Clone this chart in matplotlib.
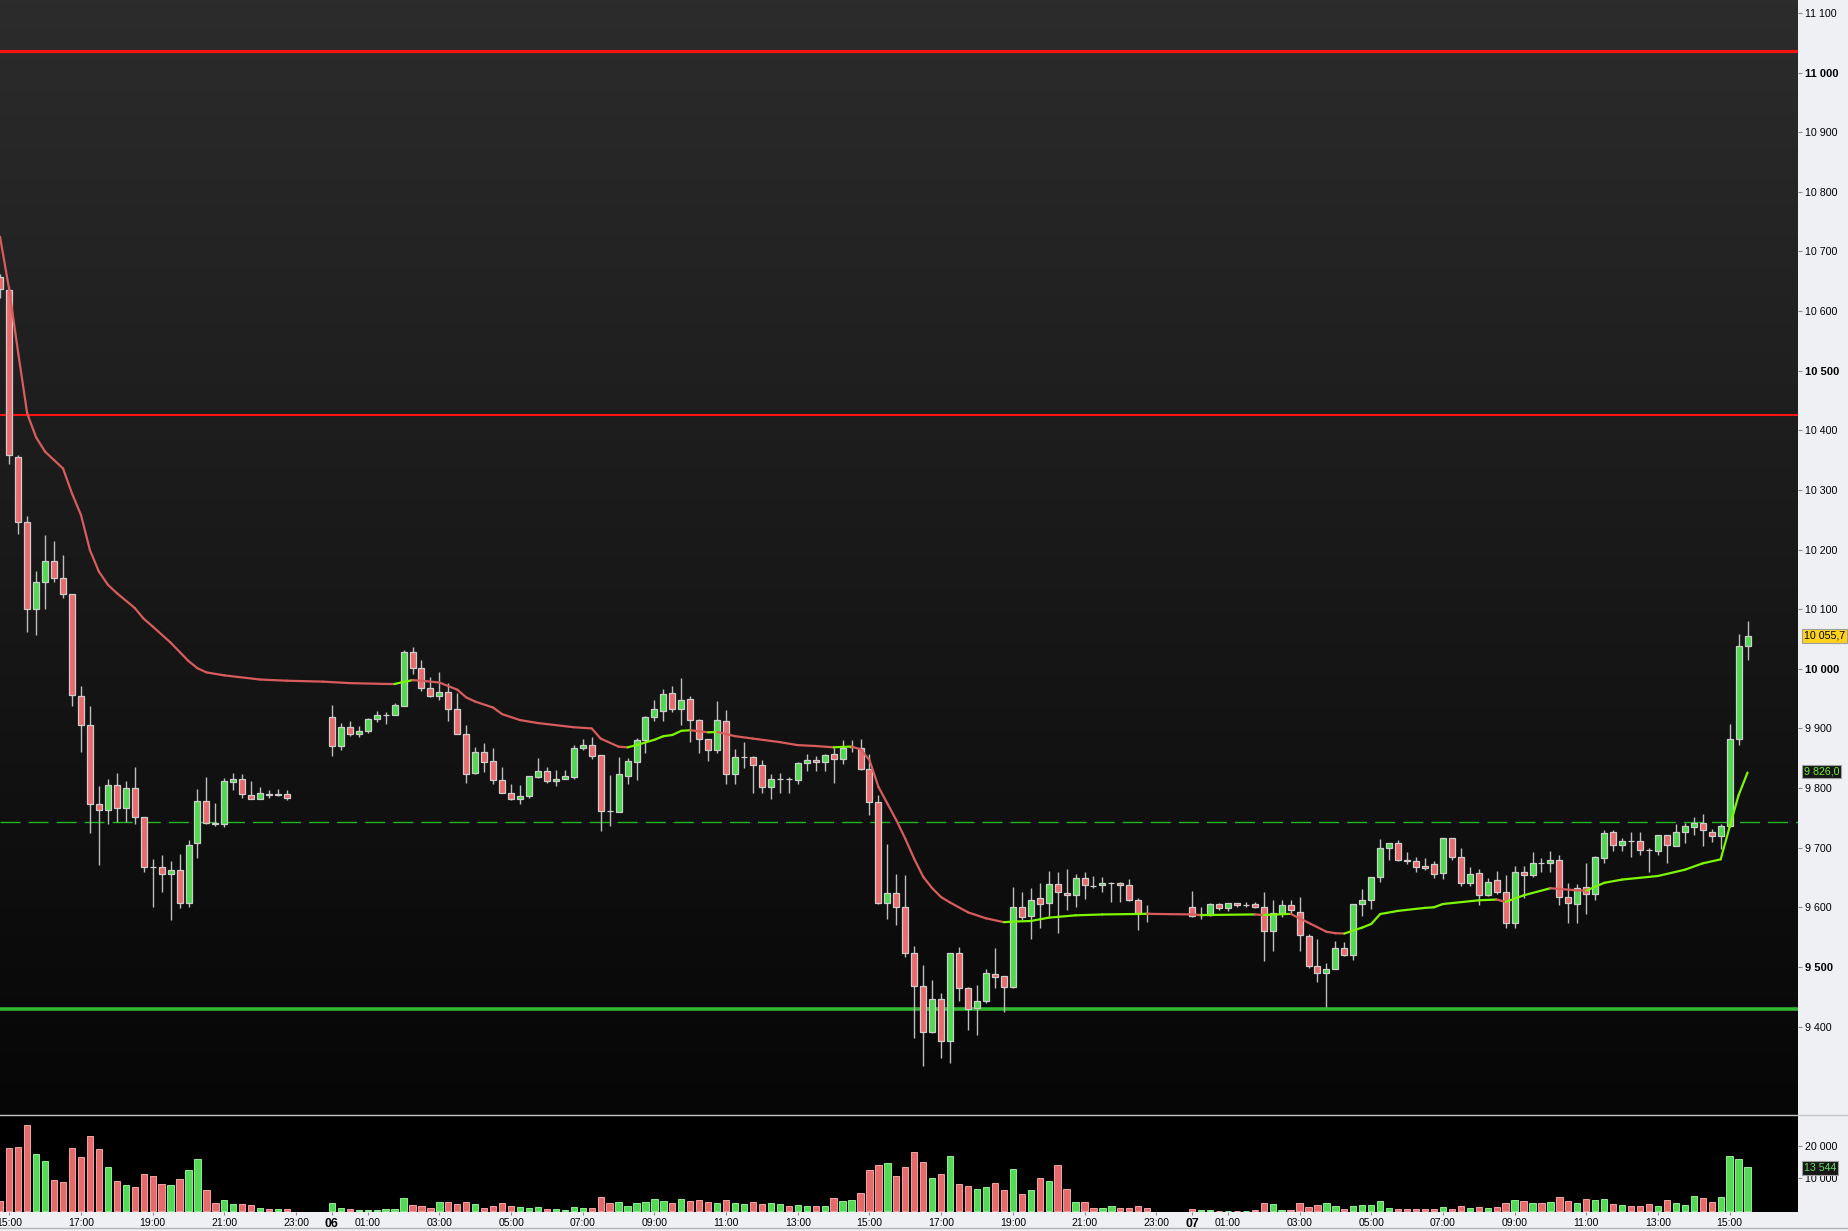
import numpy as np
import matplotlib
matplotlib.use('Agg')
import matplotlib.pyplot as plt
from matplotlib.collections import LineCollection
from matplotlib.colors import LinearSegmentedColormap
import matplotlib.transforms as mtransforms

plt.rcParams['font.family'] = ['Liberation Sans', 'DejaVu Sans']
plt.rcParams['lines.scale_dashes'] = False

# ---------------- data (15-minute bars, slot 0 = day 05 15:00) ----------------
slots = list(range(-1, 32)) + list(range(36, 128)) + list(range(132, 195))

opens = [10658, 10635, 10356, 10247, 10100, 10145, 10181, 10152, 10125, 9955,
         9905, 9774, 9764, 9805, 9767, 9800, 9751, 9667.5, 9667, 9655,
         9662, 9608, 9707, 9779, 9741, 9739, 9810, 9816, 9788, 9781,
         9789.5, 9789, 9790,
         9919, 9870, 9902, 9890, 9895, 9915, 9922.4, 9923, 9938, 10029,
         10002, 9968, 9955, 9961, 9932, 9891, 9826, 9860, 9845, 9814,
         9792, 9782, 9786, 9818, 9828, 9811, 9816, 9819, 9868, 9873,
         9855, 9761.5, 9760, 9821, 9844, 9880, 9920, 9930, 9959, 9932,
         9949, 9914, 9882, 9863, 9912, 9823, 9852.3, 9852, 9838, 9801,
         9815.3, 9815.5, 9814, 9842, 9847, 9843, 9857, 9848, 9868.5, 9868,
         9832, 9776, 9608, 9624, 9600, 9524, 9468, 9391, 9446, 9375,
         9523, 9465, 9431, 9442, 9488, 9484, 9467, 9600, 9585, 9615,
         9607, 9639, 9624, 9620, 9649, 9636, 9637, 9640.3, 9641, 9637,
         9613, 9590,
         9600, 9587, 9587, 9605, 9598, 9607, 9604, 9605, 9600, 9561,
         9590, 9603, 9592, 9551, 9501, 9489, 9496, 9531, 9520, 9605,
         9613, 9650, 9699, 9707, 9680, 9677, 9670, 9672, 9657, 9716,
         9684, 9640, 9657, 9621, 9645, 9625, 9573, 9659, 9654, 9674,
         9674, 9679, 9617, 9605, 9634, 9623, 9682, 9726, 9704, 9711,
         9711, 9696, 9694, 9721, 9702, 9726, 9734, 9742, 9727, 9719,
         9736, 9882, 10038]

highs = [10662, 10640, 10358, 10256, 10164, 10224, 10214, 10191, 10126, 9971,
         9938, 9803, 9815, 9825, 9811, 9835, 9752, 9681, 9687, 9677,
         9689, 9713, 9798, 9819, 9775, 9817, 9825, 9823, 9812, 9802,
         9797, 9798, 9797,
         9939, 9909, 9912, 9904, 9917, 9929, 9928, 9942, 10032, 10036,
         10014, 9987, 9994, 9976, 9960, 9905, 9869, 9875, 9867, 9835,
         9807, 9805, 9821, 9850, 9835, 9830, 9830, 9872, 9882, 9886,
         9856, 9822, 9852, 9850, 9884, 9921, 9948, 9966, 9972, 9984,
         9954, 9915, 9883, 9946, 9931, 9866, 9877, 9853, 9847, 9824,
         9825, 9819, 9843, 9857, 9854, 9857, 9867, 9880, 9881, 9882,
         9857, 9788, 9706, 9656, 9654, 9535, 9503, 9478, 9456, 9524,
         9533, 9466, 9469, 9496, 9531, 9485, 9634, 9626, 9632, 9641,
         9661, 9659, 9664, 9656, 9659, 9652, 9651, 9643, 9642, 9647,
         9615, 9603,
         9627, 9601, 9608, 9608, 9608, 9607, 9609, 9609, 9625, 9612,
         9612, 9612, 9617, 9555, 9546, 9506, 9543, 9541, 9606, 9631,
         9651, 9714, 9708, 9713, 9692, 9684, 9682, 9677, 9716, 9716,
         9699, 9667, 9665, 9649, 9661, 9654, 9669, 9669, 9692, 9682,
         9694, 9687, 9640, 9639, 9674, 9686, 9729, 9729, 9717, 9726,
         9726, 9699, 9722, 9722, 9740, 9741, 9751, 9756, 9731, 9739,
         9908, 10058, 10081]

lows = [10622, 10343, 10226, 10062, 10057, 10101, 10146, 10118, 9938, 9861,
        9725, 9671, 9740, 9743, 9743, 9740, 9660, 9601, 9626, 9578,
        9598, 9601, 9682, 9739, 9736, 9734, 9796, 9784, 9781, 9781,
        9784, 9787, 9780,
        9854, 9863, 9887, 9885, 9893, 9911, 9908, 9922, 9937, 9992,
        9963, 9953, 9948, 9913, 9890, 9809, 9824, 9827, 9807, 9791,
        9780, 9774, 9784, 9817, 9809, 9804, 9816, 9816, 9864, 9849,
        9728, 9737, 9760, 9806, 9814, 9859, 9913, 9913, 9928, 9906,
        9878, 9858, 9846, 9859, 9806, 9807, 9834, 9792, 9792, 9782,
        9791, 9792, 9806, 9828, 9828, 9829, 9809, 9840, 9860, 9830,
        9755, 9606, 9580, 9570, 9517, 9381, 9333, 9389, 9348, 9338,
        9442, 9395, 9385, 9440, 9464, 9425, 9464, 9579, 9547, 9566,
        9585, 9557, 9596, 9601, 9614, 9632, 9626, 9609, 9609, 9610,
        9562, 9576,
        9583, 9581, 9585, 9595, 9593, 9600, 9601, 9598, 9510, 9526,
        9583, 9588, 9526, 9498, 9474, 9433, 9496, 9518, 9511, 9586,
        9597, 9643, 9680, 9677, 9672, 9660, 9662, 9649, 9647, 9680,
        9635, 9635, 9603, 9619, 9622, 9565, 9566, 9615, 9650, 9659,
        9659, 9603, 9573, 9573, 9588, 9613, 9675, 9694, 9694, 9684,
        9687, 9659, 9687, 9674, 9702, 9707, 9721, 9703, 9709, 9697,
        9735, 9872, 10014]

closes = [10637, 10358, 10247, 10100, 10145, 10181, 10152, 10125, 9956, 9905,
          9774, 9764, 9805, 9767, 9800, 9751, 9667, 9667, 9655, 9662,
          9607, 9704, 9779, 9742, 9740, 9811, 9816, 9790, 9781, 9791,
          9789, 9789.3, 9783,
          9870, 9902, 9890, 9895, 9915, 9922, 9922.4, 9939, 10029, 10002,
          9968, 9955, 9961, 9932, 9891, 9824, 9860, 9844, 9814, 9792,
          9782, 9786, 9820, 9828, 9811, 9816, 9820, 9868, 9873, 9853,
          9762, 9761.5, 9823, 9845, 9880, 9920, 9932, 9957, 9932, 9947,
          9914, 9882, 9863, 9914, 9823, 9852, 9852.3, 9838, 9801, 9815,
          9815.3, 9815, 9842, 9847, 9843, 9855, 9848, 9868, 9868.5, 9832,
          9776, 9608, 9624, 9600, 9523, 9468, 9391, 9447, 9375, 9523,
          9465, 9430, 9442, 9489, 9483, 9467, 9600, 9583, 9613, 9605,
          9639, 9625, 9620, 9649, 9637, 9636, 9640, 9640.3, 9637, 9612,
          9590, 9590,
          9585, 9587, 9605, 9598, 9607, 9603, 9604, 9600, 9561, 9590,
          9603, 9595, 9553, 9501, 9489, 9496, 9531, 9520, 9605, 9613,
          9650, 9699, 9707, 9680, 9677, 9667, 9666, 9655, 9716, 9684,
          9640, 9655, 9621, 9643, 9625, 9573, 9659, 9654, 9675, 9674,
          9679, 9618, 9607, 9632, 9623, 9684, 9724, 9704, 9711, 9711,
          9696, 9696, 9721, 9704, 9726, 9736, 9742, 9729, 9719, 9736,
          9883, 10039, 10055.7]

volumes = [3058, 19170, 19480, 26300, 17430, 15290, 9480, 8870, 19170, 16510,
           22930, 18860, 13455, 9170, 7950, 7340, 11310, 10700, 8260, 7950,
           9790, 12540, 15900, 6420, 2450, 3360, 2140, 2140, 1835, 917,
           612, 612, 612,
           2450, 917, 612, 306, 306, 306, 612, 612, 3975, 1835,
           1530, 917, 2750, 2750, 2140, 2750, 2140, 917, 1530, 2450,
           1530, 1223, 917, 1223, 612, 612, 306, 1223, 917, 917,
           4180, 2350, 2650, 1430, 2350, 2650, 3570, 2970, 2350, 3570,
           2970, 3270, 2650, 2350, 3270, 2350, 2050, 2650, 2050, 2350,
           2050, 1430, 1740, 1430, 1430, 1430, 3880, 2970, 3270, 5410,
           12450, 13970, 14590, 10610, 13360, 17950, 14890, 10000, 11220, 16730,
           8165, 7550, 6640, 7250, 8470, 6330, 12750, 5110, 6330, 10000,
           9080, 13970, 6640, 2650, 2650, 830, 830, 1430, 830, 830,
           1430, 830,
           520, 200, 200, 80, 80, 80, 80, 306, 2350, 2050,
           200, 200, 2350, 1130, 1740, 2350, 1430, 520, 1430, 1740,
           1740, 2970, 830, 520, 520, 520, 520, 520, 1130, 520,
           1430, 830, 1130, 830, 1130, 2350, 3270, 2970, 2350, 2350,
           2650, 4190, 2970, 2350, 3570, 3270, 3570, 2050, 1740, 1430,
           1430, 2050, 1430, 3270, 2350, 1740, 4590, 3980, 2650, 4280,
           16730, 15810, 13544]

ma_slots = [-1.04, 0, 1, 2, 3, 4, 5, 6, 7, 8, 9, 10, 11, 12, 14, 15, 16, 18, 20, 21,
            22, 24, 28, 31, 35, 38, 42, 43, 44, 45, 46, 47, 48, 50, 51, 52, 54, 55, 57, 59,
            63, 65, 66, 68, 69, 70, 72, 73, 74, 75, 76, 78, 79, 81, 83, 86, 88, 90, 92, 93,
            94, 95, 96, 97, 98, 99, 100, 101, 102, 103, 104, 105, 107, 109, 111, 112, 114,
            116, 119, 122, 127, 132, 133, 139, 140, 143, 144, 145, 147, 148, 149, 150, 151,
            152, 153, 155, 158, 159, 160, 164, 166, 167, 169, 172, 175, 176, 178, 180, 184,
            187, 189, 191, 192, 193, 194]
ma_values = [10725, 10635, 10529, 10428, 10388, 10364, 10350, 10336, 10294, 10258,
             10199, 10163, 10141, 10127, 10102, 10084, 10071, 10044, 10013, 10001,
             9994, 9989, 9982, 9980, 9978.5, 9976, 9974.6, 9974.5, 9978, 9981,
             9980, 9978.5, 9977, 9965, 9952, 9945, 9935, 9924, 9914, 9909,
             9902, 9900, 9883, 9869.4, 9868.3, 9872, 9881, 9887, 9889, 9896,
             9897, 9893.5, 9894, 9887, 9883, 9877, 9872, 9870.5, 9868.3, 9869,
             9869.5, 9865, 9847, 9802, 9774, 9746, 9715, 9681, 9651, 9632,
             9617, 9608, 9591.5, 9581.5, 9575, 9576, 9577, 9582.6, 9586.5, 9588,
             9589, 9588, 9587, 9588, 9587, 9589, 9581.5, 9574, 9559, 9556.5,
             9556, 9561, 9566, 9572, 9588.7, 9594, 9599, 9600, 9605.5, 9611.7,
             9613, 9609, 9620, 9632, 9628.4, 9628, 9641, 9646.5, 9652.5, 9663,
             9673.7, 9680.4, 9735, 9788, 9826]

resistance_levels = [11036, 10426]
support_level = 9430
reference_level = 9742.5

price_ticks = list(range(9400, 11101, 100))
volume_ticks = [10000, 20000]
time_tick_slots = [0, 8, 16, 24, 32, 36, 40, 48, 56, 64, 72, 80, 88, 96, 104, 112, 120, 128,
                   132, 136, 144, 152, 160, 168, 176, 184, 192]
time_tick_labels = ['15:00', '17:00', '19:00', '21:00', '23:00', '06', '01:00', '03:00', '05:00',
                    '07:00', '09:00', '11:00', '13:00', '15:00', '17:00', '19:00', '21:00', '23:00',
                    '07', '01:00', '03:00', '05:00', '07:00', '09:00', '11:00', '13:00', '15:00']

assert len(slots) == len(opens) == len(highs) == len(lows) == len(closes) == len(volumes)
assert len(ma_slots) == len(ma_values)

# ---------------- figure layout ----------------
W, H, DPI = 1849, 1231, 100
fig = plt.figure(figsize=(W / DPI, H / DPI), dpi=DPI, facecolor='#eef0f3')

PANEL_R = 1798
PRICE_BOTTOM = 1115
VOL_BOTTOM = 1212

ax = fig.add_axes([0, 1 - PRICE_BOTTOM / H, PANEL_R / W, PRICE_BOTTOM / H])
axv = fig.add_axes([0, 1 - VOL_BOTTOM / H, PANEL_R / W, (VOL_BOTTOM - PRICE_BOTTOM) / H])

XMIN, XMAX = -1.038, 199.63
YMIN, YMAX = 9251.6, 11121.8
ax.set_xlim(XMIN, XMAX)
ax.set_ylim(YMIN, YMAX)
axv.set_xlim(XMIN, XMAX)
axv.set_ylim(-306, 29357)

# gradient background of price panel
cmap_bg = LinearSegmentedColormap.from_list('bg', ['#060606', '#2c2c2c'])
ax.imshow(np.linspace(1, 0, 256).reshape(-1, 1), cmap=cmap_bg, aspect='auto',
          extent=[XMIN, XMAX, YMIN, YMAX], origin='upper', zorder=0)
axv.set_facecolor('#000000')

for a in (ax, axv):
    for s in a.spines.values():
        s.set_visible(False)

x = np.array(slots, dtype=float)
o = np.array(opens); h = np.array(highs); l = np.array(lows); c = np.array(closes)
v = np.array(volumes, dtype=float)

RED = '#ea6a6b'
GREEN = '#4fd94f'

# horizontal levels
for i, lvl in enumerate(resistance_levels):
    ax.axhline(lvl, color='#ff1212', lw=2.3 if i == 0 else 1.5, zorder=2)
ax.axhline(support_level, color='#2fb52f', lw=2.6, zorder=2)
ax.axhline(reference_level, color='#22b622', lw=1.0, linestyle=(0, (14.4, 5.8)), zorder=2)

# candles
up = c >= o
ax.vlines(x, l, h, color='#bdbdbd', lw=1.0, zorder=3)
body_bottom = np.minimum(o, c)
body_h = np.abs(c - o)
ax.bar(x, body_h, bottom=body_bottom, width=0.67,
       color=np.where(up, GREEN, RED), edgecolor='#cdcdcd', linewidth=0.9, zorder=4)

# moving average line, coloured by direction
mx = np.array(ma_slots); my = np.array(ma_values)
segs = np.stack([np.column_stack([mx[:-1], my[:-1]]), np.column_stack([mx[1:], my[1:]])], axis=1)
seg_colors = ['#7df700' if my[i + 1] >= my[i] else '#d85c5c' for i in range(len(my) - 1)]
ax.add_collection(LineCollection(segs, colors=seg_colors, linewidths=1.6, zorder=5,
                                 capstyle='round', joinstyle='round'))

# volume bars (colour by close vs previous close)
prev_c = np.concatenate([[np.inf], c[:-1]])
vol_up = c > prev_c
axv.bar(x, v, width=0.7, color=np.where(vol_up, '#55d855', '#e56b6b'),
        edgecolor=np.where(vol_up, '#8ef08e', '#f4a3a3'), linewidth=0.7, zorder=3)

# ---------------- axes ticks ----------------
def fmt_thousands(val, dec=0):
    s = f"{val:,.{dec}f}"
    return s.replace(',', ' ').replace('.', ',')

ax.yaxis.tick_right()
ax.set_yticks(price_ticks)
ax.set_yticklabels([fmt_thousands(t) for t in price_ticks])
ax.tick_params(axis='y', direction='out', length=3, width=0.8, color='#8c8c8c', pad=2.2,
               labelsize=7.7, labelcolor='#000000')
for t, lab in zip(price_ticks, ax.get_yticklabels()):
    if t % 500 == 0:
        lab.set_fontweight('bold')
        lab.set_fontsize(8.0)
ax.set_xticks([])

axv.yaxis.tick_right()
axv.set_yticks(volume_ticks)
axv.set_yticklabels([fmt_thousands(t) for t in volume_ticks])
axv.tick_params(axis='y', direction='out', length=3, width=0.8, color='#8c8c8c', pad=2.2,
                labelsize=7.7, labelcolor='#000000')

axv.set_xticks(time_tick_slots)
axv.set_xticklabels(time_tick_labels)
axv.tick_params(axis='x', direction='out', length=2.5, width=0.8, color='#8c8c8c', pad=1.5,
                labelsize=7.5, labelcolor='#000000')
for lab in axv.get_xticklabels():
    if ':' not in lab.get_text():
        lab.set_fontweight('bold')
        lab.set_fontsize(8.8)

# ---------------- value badges on the right axis ----------------
def badge(axis, yval, text, fc, tc, dy=0):
    trans = mtransforms.blended_transform_factory(axis.transAxes, axis.transData)
    trans = mtransforms.offset_copy(trans, fig=fig, x=6, y=dy, units='dots')
    axis.text(1.0, yval, text, transform=trans, ha='left', va='center', fontsize=7.7,
              color=tc, clip_on=False, zorder=10,
              bbox=dict(boxstyle='square,pad=0.18', fc=fc, ec='#a0a0a0', lw=0.8))

badge(ax, closes[-1], fmt_thousands(closes[-1], 1), '#ffd21c', '#000000', dy=0)
badge(ax, ma_values[-1], fmt_thousands(ma_values[-1], 1), '#161616', '#6cf02a', dy=1)
badge(axv, volumes[-1], fmt_thousands(volumes[-1]), '#161616', '#5fe05f', dy=-1)

# separators
fig.add_artist(plt.Line2D([0, 1], [1 - PRICE_BOTTOM / H, 1 - PRICE_BOTTOM / H],
                          transform=fig.transFigure, color='#c4c4c4', lw=1.0))
fig.add_artist(plt.Line2D([0, 1], [1 - 1228 / H, 1 - 1228 / H],
                          transform=fig.transFigure, color='#b4b4b4', lw=1.0))

fig.savefig('out.png', dpi=DPI, facecolor=fig.get_facecolor())
